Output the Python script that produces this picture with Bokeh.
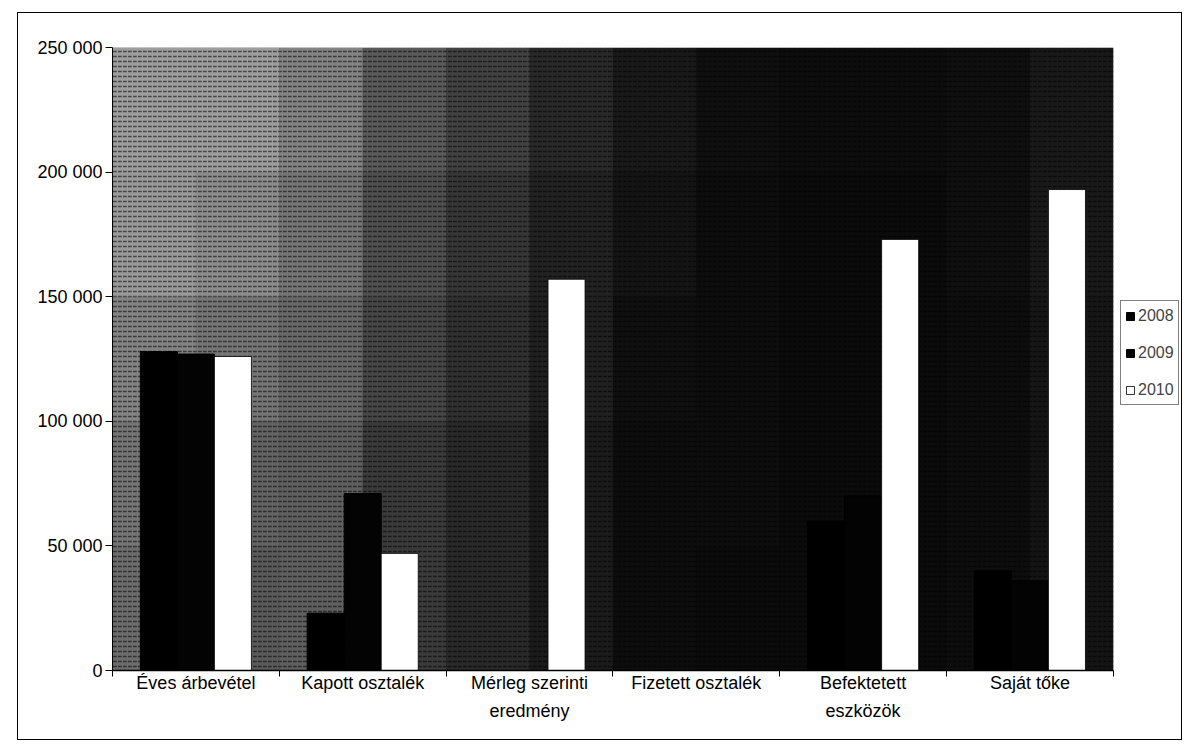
from bokeh.plotting import figure
from bokeh.models import (Range1d, FixedTicker, LinearAxis, CustomJSTickFormatter,
                          ColumnDataSource, Legend, LegendItem, BoxAnnotation)
from bokeh.transform import dodge
from bokeh.embed import file_html
from bokeh.resources import INLINE

# ---- data ----
categories = ["Éves árbevétel", "Kapott osztalék", "Mérleg szerinti\neredmény",
              "Fizetett osztalék", "Befektetett\neszközök", "Saját tőke"]
years = ["2008", "2009", "2010"]
v2008 = [128000, 23000, 0, 0, 60000, 40000]
v2009 = [127000, 71000, 0, 0, 70000, 36000]
v2010 = [126000, 47000, 157000, 0, 173000, 193000]
y_ticks = [0, 50000, 100000, 150000, 200000, 250000]

FONT = "Liberation Sans"
n = len(categories)
centers = [i + 0.5 for i in range(n)]
bounds = [float(i) for i in range(n + 1)]

# layout constants (pixels)
FIG_W, FIG_H = 1165, 728
MB_L, MB_R, MB_T, MB_B = 94, 3, 34, 71
FRAME_W = FIG_W - 3 - MB_L - MB_R   # frame incl. the legend strip on the right
CAT_W = 998                          # width of the plot area that holds the categories
x_end = n * FRAME_W / CAT_W

source = ColumnDataSource(dict(x=centers, y2008=v2008, y2009=v2009, y2010=v2010))

p = figure(width=FIG_W, height=FIG_H, output_backend="svg", toolbar_location=None,
           x_range=Range1d(0, x_end), y_range=Range1d(0, y_ticks[-1]),
           x_axis_type=None, y_axis_type=None,
           min_border_left=MB_L, min_border_right=MB_R, min_border_top=MB_T,
           min_border_bottom=MB_B,
           background_fill_color="white", border_fill_color="white",
           outline_line_color=None)
p.margin = (12, 0, 0, 17)
p.styles = {"border": "1.5px solid black"}
p.xgrid.visible = False
p.ygrid.visible = False

# dark plot-area background (only over the category area)
p.add_layout(BoxAnnotation(left=0, right=n, bottom=0, top=y_ticks[-1], level="underlay",
                           fill_color="#050505", fill_alpha=1.0, line_color=None))

# scanned-background shading (style only): rows top->bottom, columns of half a category
bg_shade = [
    [0.68, 0.68, 0.56, 0.38, 0.27, 0.16, 0.09, 0.05, 0.04, 0.04, 0.05, 0.09],
    [0.66, 0.60, 0.50, 0.33, 0.22, 0.13, 0.07, 0.04, 0.03, 0.03, 0.05, 0.09],
    [0.56, 0.50, 0.44, 0.29, 0.19, 0.12, 0.05, 0.04, 0.03, 0.03, 0.04, 0.08],
    [0.50, 0.42, 0.40, 0.24, 0.16, 0.10, 0.04, 0.04, 0.03, 0.03, 0.04, 0.07],
    [0.46, 0.38, 0.40, 0.24, 0.16, 0.10, 0.04, 0.03, 0.03, 0.03, 0.04, 0.07],
]
rows = len(bg_shade)
cols = len(bg_shade[0])
for ri, rw in enumerate(bg_shade):
    top = y_ticks[-1] * (rows - ri) / rows
    bot = y_ticks[-1] * (rows - ri - 1) / rows
    for ci, b in enumerate(rw):
        p.add_layout(BoxAnnotation(left=ci * n / cols, right=(ci + 1) * n / cols,
                                   bottom=bot, top=top, level="underlay",
                                   fill_color="white", fill_alpha=b * 0.9,
                                   line_color=None,
                                   hatch_pattern='"', hatch_color="black",
                                   hatch_alpha=0.55, hatch_scale=5, hatch_weight=1.5))

w = 0.222
r08 = p.vbar(x=dodge("x", -w, range=p.x_range), top="y2008", width=w, source=source,
             fill_color="black", line_color="black")
r09 = p.vbar(x=dodge("x", 0, range=p.x_range), top="y2009", width=w, source=source,
             fill_color="#030303", line_color="black")
r10 = p.vbar(x=dodge("x", w, range=p.x_range), top="y2010", width=w, source=source,
             fill_color="white", line_color="black", line_width=0.8)

# x axis: labels at centers, tick marks at category boundaries
xaxis = LinearAxis(ticker=FixedTicker(ticks=centers, minor_ticks=bounds),
                   major_label_overrides={c: lab for c, lab in zip(centers, categories)})
xaxis.bounds = (0, n)
xaxis.major_tick_line_color = None
xaxis.major_tick_out = 0
xaxis.major_tick_in = 0
xaxis.minor_tick_line_color = "black"
xaxis.minor_tick_out = 6
xaxis.minor_tick_in = 0
xaxis.axis_line_color = "black"
xaxis.axis_line_width = 1.5
xaxis.major_label_standoff = -4
xaxis.major_label_text_font = FONT
xaxis.major_label_text_font_size = "18px"
xaxis.major_label_text_color = "black"
xaxis.major_label_text_line_height = 1.4
p.add_layout(xaxis, "below")

yaxis = LinearAxis(ticker=FixedTicker(ticks=y_ticks),
                   formatter=CustomJSTickFormatter(
                       code=r"return tick.toFixed(0).replace(/\B(?=(\d{3})+(?!\d))/g, ' ');"))
yaxis.major_tick_out = 7
yaxis.major_tick_in = 0
yaxis.minor_tick_line_color = None
yaxis.axis_line_color = "black"
yaxis.major_tick_line_color = "black"
yaxis.major_label_standoff = 3
yaxis.major_label_text_font = FONT
yaxis.major_label_text_font_size = "18px"
yaxis.major_label_text_color = "black"
p.add_layout(yaxis, "left")

legend = Legend(items=[LegendItem(label=years[0], renderers=[r08]),
                       LegendItem(label=years[1], renderers=[r09]),
                       LegendItem(label=years[2], renderers=[r10])],
                location=(CAT_W + 10, 265), orientation="vertical",
                glyph_width=10, glyph_height=10, label_height=21, spacing=16,
                padding=4, margin=0, label_standoff=3,
                label_text_font=FONT, label_text_font_size="16px",
                border_line_color="black", border_line_width=1,
                background_fill_color="white", background_fill_alpha=1.0)
p.add_layout(legend, "center")

open("out.html", "w").write(file_html(p, INLINE))
